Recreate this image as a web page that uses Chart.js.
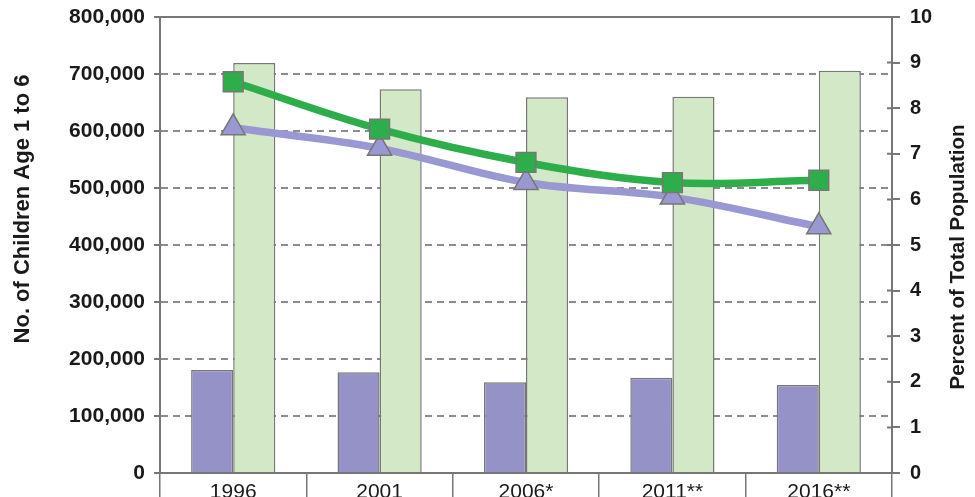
<!DOCTYPE html>
<html>
<head>
<meta charset="utf-8">
<script src="https://cdn.jsdelivr.net/npm/chart.js@4"></script>
<style>
  html, body { margin: 0; padding: 0; background: #fff; overflow: hidden; }
  #wrap { width: 975px; height: 497px; }
</style>
</head>
<body>
<div id="wrap"><canvas id="childrenChart" width="975" height="497"></canvas></div>
<script>
// census years on the x axis
const years = ['1996', '2001', '2006*', '2011**', '2016**'];

// bar series, left axis (number of children)
const childCountA = [180700, 176700, 159100, 167200, 154400];
const childCountB = [719300, 673200, 659100, 660200, 705800];

// line series, right axis (percent of total population)
const shareA = [8.58, 7.54, 6.81, 6.37, 6.42];
const shareB = [7.57, 7.12, 6.37, 6.05, 5.40];

// axis ticks
const leftTicks = [0, 100000, 200000, 300000, 400000, 500000, 600000, 700000, 800000];
const rightTicks = [0, 1, 2, 3, 4, 5, 6, 7, 8, 9, 10];

const leftTitle = 'No. of Children Age 1 to 6';
const rightTitle = 'Percent of Total Population';

const axisGray = '#777777';
const fontFamily = "'Liberation Sans', Arial, sans-serif";

// keep the plot box at a fixed place: axis widths are set, label overhang ignored
function fixVertical(width) {
    return scale => {
        scale.width = width;
        scale.paddingTop = 0;
        scale.paddingBottom = 0;
    };
}

// frame, inner right-axis ticks and the two rotated axis titles
const decorations = {
    id: 'decorations',
    afterDatasetsDraw(chart) {
        const { ctx, chartArea } = chart;
        const y1 = chart.scales.y1;
        ctx.save();
        ctx.strokeStyle = axisGray;
        ctx.lineWidth = 2;
        ctx.beginPath();
        ctx.moveTo(chartArea.left, chartArea.top);
        ctx.lineTo(chartArea.right, chartArea.top);
        rightTicks.forEach(v => {
            const py = y1.getPixelForValue(v);
            ctx.moveTo(chartArea.right - 5, py);
            ctx.lineTo(chartArea.right, py);
        });
        ctx.stroke();
        ctx.restore();
    },
    afterDraw(chart) {
        const { ctx } = chart;
        const drawTitle = (text, size, x, y) => {
            ctx.save();
            ctx.fillStyle = '#1a1a1a';
            ctx.font = `bold ${size}px ${fontFamily}`;
            ctx.textAlign = 'center';
            ctx.textBaseline = 'middle';
            ctx.translate(x, y);
            ctx.rotate(-Math.PI / 2);
            ctx.fillText(text, 0, 0);
            ctx.restore();
        };
        drawTitle(leftTitle, 22, 23, 209);
        drawTitle(rightTitle, 20.5, 958, 257);
    }
};

const ctx = document.getElementById('childrenChart').getContext('2d');
new Chart(ctx, {
    data: {
        labels: years,
        datasets: [
            {
                type: 'line',
                label: 'Share A',
                data: shareA,
                yAxisID: 'y1',
                order: 0,
                borderColor: '#2eae4b',
                borderWidth: 7.5,
                tension: 0.35,
                pointStyle: 'rect',
                pointRadius: 14,
                pointBackgroundColor: '#2eae4b',
                pointBorderColor: axisGray,
                pointBorderWidth: 1.5
            },
            {
                type: 'line',
                label: 'Share B',
                data: shareB,
                yAxisID: 'y1',
                order: 1,
                borderColor: '#9a98d2',
                borderWidth: 7.5,
                tension: 0.35,
                pointStyle: 'triangle',
                pointRadius: 14,
                pointBackgroundColor: '#9a98d2',
                pointBorderColor: axisGray,
                pointBorderWidth: 1.5
            },
            {
                type: 'bar',
                label: 'Count A',
                data: childCountA,
                yAxisID: 'y',
                order: 2,
                backgroundColor: '#9592c8',
                borderColor: axisGray,
                borderWidth: 1.5,
                categoryPercentage: 0.575,
                barPercentage: 1
            },
            {
                type: 'bar',
                label: 'Count B',
                data: childCountB,
                yAxisID: 'y',
                order: 2,
                backgroundColor: '#d3e8c6',
                borderColor: axisGray,
                borderWidth: 1.5,
                categoryPercentage: 0.575,
                barPercentage: 1
            }
        ]
    },
    options: {
        responsive: false,
        animation: false,
        devicePixelRatio: 1,
        layout: { padding: { top: 17 } },
        plugins: {
            legend: { display: false },
            tooltip: { enabled: false }
        },
        scales: {
            x: {
                offset: true,
                grid: {
                    offset: true,
                    drawOnChartArea: false,
                    drawTicks: true,
                    tickLength: 26,
                    color: axisGray,
                    lineWidth: 1.5
                },
                border: { display: true, color: axisGray, width: 2 },
                ticks: {
                    color: '#1a1a1a',
                    padding: -19,
                    font: { family: fontFamily, size: 21 }
                },
                afterFit(scale) { scale.height = 24; }
            },
            y: {
                position: 'left',
                min: leftTicks[0],
                max: leftTicks[leftTicks.length - 1],
                afterBuildTicks(scale) { scale.ticks = leftTicks.map(v => ({ value: v })); },
                grid: {
                    color: '#8c8c8c',
                    lineWidth: 2,
                    tickLength: 6,
                    tickColor: axisGray,
                    tickWidth: 2
                },
                border: { display: true, color: axisGray, width: 2, dash: [7, 5] },
                ticks: {
                    color: '#1a1a1a',
                    padding: 9,
                    font: { family: fontFamily, size: 21, weight: 'bold' },
                    callback: v => v.toLocaleString('en-US')
                },
                afterFit: fixVertical(160)
            },
            y1: {
                position: 'right',
                min: rightTicks[0],
                max: rightTicks[rightTicks.length - 1],
                afterBuildTicks(scale) { scale.ticks = rightTicks.map(v => ({ value: v })); },
                grid: {
                    drawOnChartArea: false,
                    tickLength: 8,
                    color: axisGray,
                    lineWidth: 2
                },
                border: { display: true, color: axisGray, width: 2 },
                ticks: {
                    color: '#1a1a1a',
                    padding: 10,
                    font: { family: fontFamily, size: 20, weight: 'bold' }
                },
                afterFit: fixVertical(83)
            }
        }
    },
    plugins: [decorations]
});
</script>
</body>
</html>
